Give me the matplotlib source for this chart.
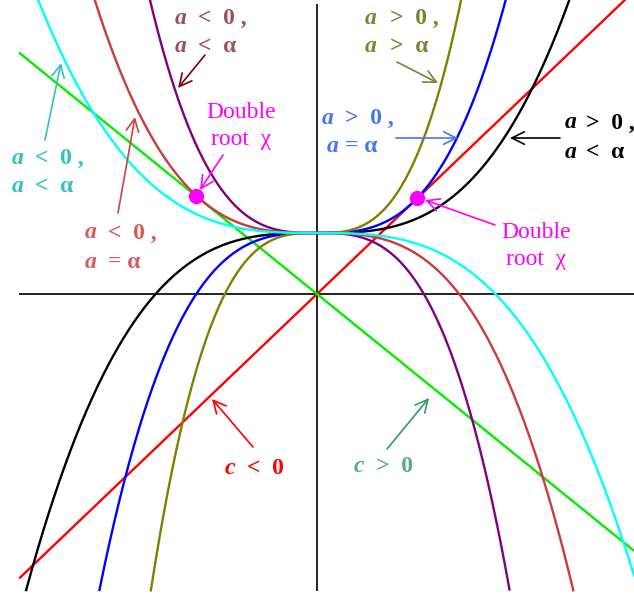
import numpy as np
import matplotlib
matplotlib.use("Agg")
import matplotlib.pyplot as plt

# cubic curves y = a*x^3 + h and lines y = c*x (units: 1 = 61 px)
h = 1.0
curve_a = [0.054, 0.129, 0.29, -0.186, -0.079, -0.040]
curve_colors = ["black", "#0000ff", "#808000", "#800080", "#cc3b3b", "#00ffff"]
line_c = [0.955, -0.81]
line_colors = ["#ff0000", "#00ee00"]
root_x = [1.64, -1.98]   # marked double roots

labels_rhs = [("<  0 ,", "<  α"), (">  0 ,", ">  α"), (">  0 ,", "= α"),
              (">  0 ,", "<  α"), ("<  0 ,", "<  α"), ("<  0 ,", "= α")]

SCALE = 61.0
OX, OY = 317, 294


def P(px, py):
    return ((px - OX) / SCALE, (OY - py) / SCALE)


fig = plt.figure(figsize=(6.34, 5.97), dpi=100)
ax = fig.add_axes([0, 0, 1, 1])
ax.set_xlim(-OX / SCALE, (634 - OX) / SCALE)
ax.set_ylim((OY - 597) / SCALE, OY / SCALE)
ax.axis("off")

# axes
ax.plot([P(20, 0)[0], P(634, 0)[0]], [0, 0], color="#222222", lw=1.4, zorder=1)
ax.plot([0, 0], [P(0, 5)[1], P(0, 590)[1]], color="#222222", lw=1.4, zorder=1)

ybot = P(0, 591)[1]
x = np.linspace(-5.2, 5.2, 2000)
for a, col in zip(curve_a, curve_colors):
    y = a * x ** 3 + h
    y[y < ybot] = np.nan
    ax.plot(x, y, color=col, lw=1.7, zorder=3)

xl = np.linspace(P(20, 0)[0], 5.2, 200)
for c, col in zip(line_c, line_colors):
    ax.plot(xl, c * xl, color=col, lw=1.7, zorder=2)

# double roots
for c, x0 in zip(line_c, root_x):
    ax.plot(x0, c * x0, "o", color="#ff00ff", ms=10, zorder=5)

fs = 17
ser = "Liberation Serif"


def alabel(px_a, px_r, py1, py2, rhs, col, px_a2=None):
    for i, (py, r) in enumerate(zip((py1, py2), rhs)):
        pa = px_a if (i == 0 or px_a2 is None) else px_a2
        ax.text(*P(pa, py), "a", color=col, fontsize=fs, family=ser,
                style="italic", weight="bold", va="center", ha="left")
        ax.text(*P(px_r, py), r, color=col, fontsize=fs, family=ser,
                weight="bold", va="center", ha="left")


def arrow(tail, head, col):
    ax.annotate("", xy=P(*head), xytext=P(*tail),
                arrowprops=dict(arrowstyle="->,head_length=0.9,head_width=0.45",
                                color=col, lw=1.2, shrinkA=0, shrinkB=0))


# a<0, a<alpha (purple)
alabel(175, 198, 18, 46, labels_rhs[0], "#a0505a")
arrow((205, 55), (178, 88), "#800000")
# a>0, a>alpha (olive)
alabel(365, 390, 18, 46, labels_rhs[1], "#808030")
arrow((397, 62), (438, 83), "#808030")
# a>0, a=alpha (blue)
alabel(322, 345, 118, 147, labels_rhs[2], "#4477ee", px_a2=327)
arrow((396, 138), (458, 138), "#4477ee")
# a>0, a<alpha (black)
alabel(565, 586, 123, 152, labels_rhs[3], "black")
arrow((560, 138), (510, 138), "black")
# a<0, a<alpha (cyan)
alabel(12, 35, 158, 187, labels_rhs[4], "#33c0c0")
arrow((45, 140), (61, 63), "#33c0c0")
# a<0, a=alpha (red-brown)
alabel(85, 108, 233, 262, labels_rhs[5], "#d65a5a")
arrow((118, 213), (135, 117), "#cc4444")

# double root labels
for cx, y1, y2, tail, head in [(241, 113, 140, (223, 155), (200, 190)),
                               (536, 233, 259, (495, 225), (425, 200))]:
    ax.text(*P(cx, y1), "Double", color="#ff00ff", fontsize=fs, family=ser,
            ha="center", va="center")
    ax.text(*P(cx, y2), "root  χ", color="#ff00ff", fontsize=fs, family=ser,
            ha="center", va="center")
    arrow(tail, head, "#ff00ff")

# c labels
for px_c, px_r, py, rhs, col, acol, tail, head in [
        (225, 247, 468, "<  0", "#ff0000", "#ff0000", (253, 447), (212, 399)),
        (354, 376, 467, ">  0", "#55aa88", "#339966", (387, 449), (429, 398))]:
    ax.text(*P(px_c, py), "c", color=col, fontsize=fs, family=ser,
            style="italic", weight="bold", va="center", ha="left")
    ax.text(*P(px_r, py), rhs, color=col, fontsize=fs, family=ser,
            weight="bold", va="center", ha="left")
    arrow(tail, head, acol)

fig.savefig("out.png", dpi=100)
